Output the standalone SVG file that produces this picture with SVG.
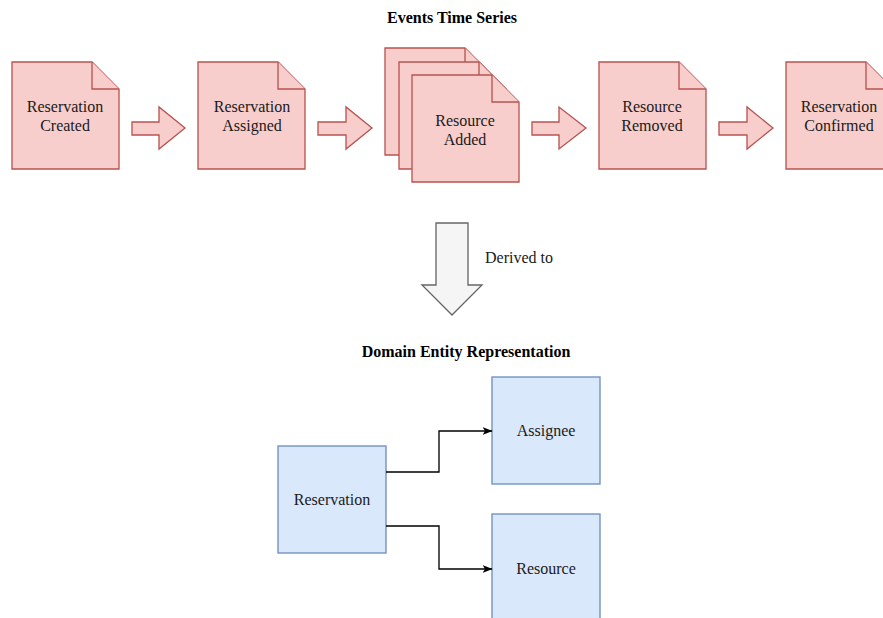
<svg xmlns="http://www.w3.org/2000/svg" width="883" height="618" viewBox="0 0 883 618">
  <style>
    .doc { fill: #f8cecc; stroke: #b85450; stroke-width: 1.33; stroke-linejoin: miter; }
    .flow { fill: #f8cecc; stroke: #b85450; stroke-width: 1.33; }
    .entity { fill: #dae8fc; stroke: #6c8ebf; stroke-width: 1.33; }
    .derive { fill: #f5f5f5; stroke: #666666; stroke-width: 1.33; }
    .lbl { font-family: "Liberation Serif", "Times New Roman", serif; font-size: 16px; fill: #1a1a1a; text-anchor: middle; }
    .title { font-family: "Liberation Serif", "Times New Roman", serif; font-size: 16px; font-weight: bold; fill: #000; text-anchor: middle; }
    .edge { fill: none; stroke: #000; stroke-width: 1.33; }
  </style>
  <defs>
    <marker id="arrow" viewBox="0 0 10 8" refX="9.5" refY="4" markerWidth="10" markerHeight="8" markerUnits="userSpaceOnUse" orient="auto">
      <path d="M0,0 L10,4 L0,8 L2.5,4 Z" fill="#000"/>
    </marker>
    <!-- note shape: 107x107 with a folded corner -->
    <g id="note">
      <path class="doc" d="M0,0 H80 L107,27 V107 H0 Z"/>
      <path class="doc" d="M80,0 V27 H107"/>
    </g>
  </defs>

  <rect width="883" height="618" fill="#ffffff"/>

  <text class="title" x="452" y="23">Events Time Series</text>

  <g id="evt-created">
    <use href="#note" x="12" y="62"/>
    <text class="lbl" x="65" y="112">Reservation</text>
    <text class="lbl" x="65" y="131">Created</text>
  </g>

  <g id="evt-assigned">
    <use href="#note" x="198" y="62"/>
    <text class="lbl" x="252" y="112">Reservation</text>
    <text class="lbl" x="252" y="131">Assigned</text>
  </g>

  <g id="evt-resource-added">
    <use href="#note" x="385" y="48"/>
    <use href="#note" x="399" y="62"/>
    <use href="#note" x="412" y="75"/>
    <text class="lbl" x="465" y="126">Resource</text>
    <text class="lbl" x="465" y="145">Added</text>
  </g>

  <g id="evt-resource-removed">
    <use href="#note" x="599" y="62"/>
    <text class="lbl" x="652" y="112">Resource</text>
    <text class="lbl" x="652" y="131">Removed</text>
  </g>

  <g id="evt-confirmed">
    <use href="#note" x="786" y="62"/>
    <text class="lbl" x="839" y="112">Reservation</text>
    <text class="lbl" x="839" y="131">Confirmed</text>
  </g>

  <g id="flow-arrows">
    <path class="flow" d="M132,122 H159 V107 L185,128 L159,149 V135 H132 Z"/>
    <path class="flow" d="M318,122 H346 V107 L372,128 L346,149 V135 H318 Z"/>
    <path class="flow" d="M532,122 H559 V107 L586,128 L559,149 V135 H532 Z"/>
    <path class="flow" d="M719,122 H747 V107 L773,128 L747,149 V135 H719 Z"/>
  </g>

  <g id="derived">
    <path class="derive" d="M436,223 H468 V285 H482 L452,315 L422,285 H436 Z"/>
    <text class="lbl" x="485" y="263" style="text-anchor:start">Derived to</text>
  </g>

  <text class="title" x="466" y="357">Domain Entity Representation</text>

  <g id="reservation">
    <rect class="entity" x="278" y="446" width="108" height="107"/>
    <text class="lbl" x="332" y="505">Reservation</text>
  </g>

  <g id="assignee">
    <rect class="entity" x="492" y="377" width="108" height="107"/>
    <text class="lbl" x="546" y="436">Assignee</text>
  </g>

  <g id="resource">
    <rect class="entity" x="492" y="514" width="108" height="107"/>
    <text class="lbl" x="546" y="574">Resource</text>
  </g>

  <g id="connectors">
    <path class="edge" d="M386,472 H439 V431 H492" marker-end="url(#arrow)"/>
    <path class="edge" d="M386,526 H439 V569 H492" marker-end="url(#arrow)"/>
  </g>
</svg>
